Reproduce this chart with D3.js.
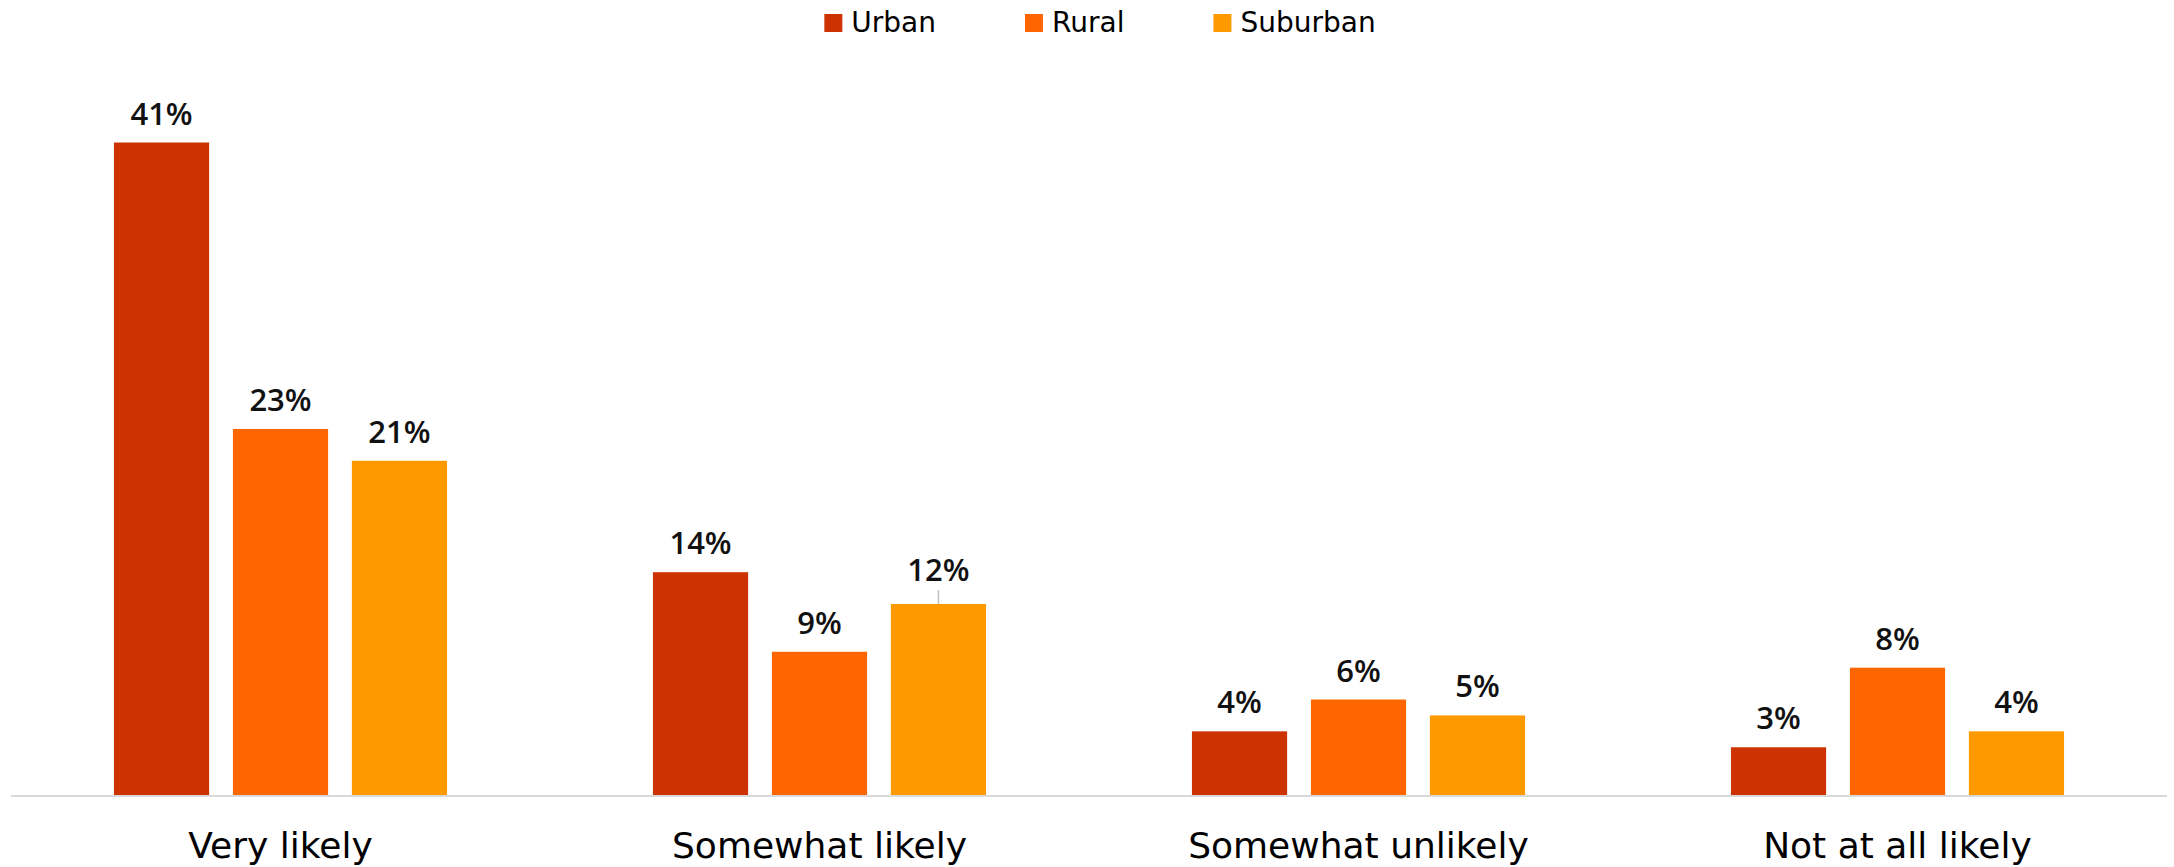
<!DOCTYPE html>
<html lang="en">
<head>
    <meta charset="UTF-8">
    <title>Likelihood by community type</title>
    <style>
    body {
        margin: 0;
        background: #ffffff;
    }
    svg {
        display: block;
    }
    .bar-label {
        font-family: "Open Sans", sans-serif;
        font-weight: 600;
        font-size: 31px;
        fill: #111111;
        text-anchor: middle;
    }
    .cat-label {
        font-family: "DejaVu Sans", sans-serif;
        font-size: 36px;
        fill: #000000;
        text-anchor: middle;
    }
    .legend-text {
        font-family: "DejaVu Sans", sans-serif;
        font-size: 28px;
        fill: #000000;
    }
    .baseline {
        stroke: #d9d9d9;
        stroke-width: 2px;
    }
    .leader {
        stroke: #bfbfbf;
        stroke-width: 1.5px;
    }
    </style>
</head>
<body>
    <div id="chart"></div>
    <script src="https://d3js.org/d3.v7.min.js"></script>
    <script>
        // data
        var categories = ["Very likely", "Somewhat likely", "Somewhat unlikely", "Not at all likely"];
        var seriesNames = ["Urban", "Rural", "Suburban"];
        var urban = [41, 14, 4, 3];
        var rural = [23, 9, 6, 8];
        var suburban = [21, 12, 5, 4];
        var colors = ["#cc3300", "#ff6600", "#ff9900"];

        var width = 2174, height = 867;
        var values = [urban, rural, suburban];

        var svg = d3.select("#chart").append("svg")
            .attr("width", width)
            .attr("height", height);

        var x0 = d3.scaleBand()
            .domain(categories)
            .range([11, 2167])
            .paddingInner(0.382)
            .paddingOuter(0.191);

        var x1 = d3.scaleBand()
            .domain(seriesNames)
            .range([0, x0.bandwidth()])
            .paddingInner(0.2);

        var y = d3.scaleLinear()
            .domain([0, 41])
            .range([795, 142.5]);

        var rows = [];
        categories.forEach(function(c, i) {
            seriesNames.forEach(function(s, j) {
                rows.push({cat: c, series: s, value: values[j][i], color: colors[j]});
            });
        });

        // baseline
        svg.append("line")
            .attr("class", "baseline")
            .attr("x1", 11)
            .attr("x2", 2167)
            .attr("y1", y(0) + 1)
            .attr("y2", y(0) + 1);

        svg.selectAll("rect.bar")
            .data(rows)
            .enter().append("rect")
            .attr("class", "bar")
            .attr("x", function(d) { return x0(d.cat) + x1(d.series); })
            .attr("y", function(d) { return y(d.value); })
            .attr("width", x1.bandwidth())
            .attr("height", function(d) { return y(0) - y(d.value); })
            .style("fill", function(d) { return d.color; });

        // the 12% label sits a bit higher with a small leader line
        function lift(d) {
            return (d.cat == "Somewhat likely" && d.series == "Suburban") ? 5 : 0;
        }

        svg.selectAll("text.bar-label")
            .data(rows)
            .enter().append("text")
            .attr("class", "bar-label")
            .attr("x", function(d) { return x0(d.cat) + x1(d.series) + x1.bandwidth() / 2; })
            .attr("y", function(d) { return y(d.value) - 18 - lift(d); })
            .text(function(d) { return d.value + "%"; });

        svg.selectAll("line.leader")
            .data(rows.filter(function(d) { return lift(d) > 0; }))
            .enter().append("line")
            .attr("class", "leader")
            .attr("x1", function(d) { return x0(d.cat) + x1(d.series) + x1.bandwidth() / 2; })
            .attr("x2", function(d) { return x0(d.cat) + x1(d.series) + x1.bandwidth() / 2; })
            .attr("y1", function(d) { return y(d.value) - 14; })
            .attr("y2", function(d) { return y(d.value); });

        svg.selectAll("text.cat-label")
            .data(categories)
            .enter().append("text")
            .attr("class", "cat-label")
            .attr("x", function(d) { return x0(d) + x0.bandwidth() / 2; })
            .attr("y", 858)
            .text(function(d) { return d; });

        // legend, centred above the plot
        var gap = 89;
        var legend = svg.append("g").attr("class", "legend");
        var items = legend.selectAll("g")
            .data(seriesNames)
            .enter().append("g");
        items.append("rect")
            .attr("width", 18)
            .attr("height", 18)
            .attr("y", 14)
            .style("fill", function(d, i) { return colors[i]; });
        items.append("text")
            .attr("class", "legend-text")
            .attr("x", 27)
            .attr("y", 32)
            .text(function(d) { return d; });

        var pos = 0;
        items.each(function() {
            var w = this.getBBox().width;
            d3.select(this).attr("transform", "translate(" + pos + ",0)");
            pos += w + gap;
        });
        var total = pos - gap;
        legend.attr("transform", "translate(" + (1100 - total / 2) + ",0)");
    </script>
</body>
</html>
